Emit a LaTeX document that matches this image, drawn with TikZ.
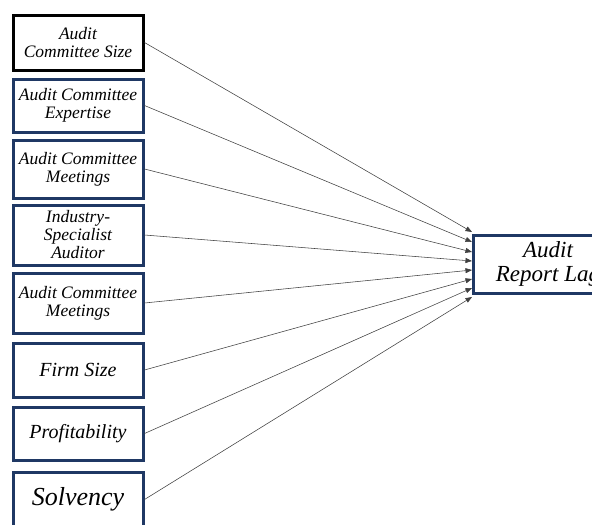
\documentclass[tikz,border=0pt]{standalone}
\usepackage{fontspec}
\setmainfont{Liberation Serif}
\usetikzlibrary{arrows.meta}
\definecolor{navy}{RGB}{31,56,100}
\begin{document}
\begin{tikzpicture}[x=1pt,y=-1pt,
  box/.style={draw=navy,line width=3pt,minimum width=130pt,inner sep=0pt,align=center,font=\itshape\fontsize{17.5}{18}\selectfont},
  conn/.style={draw=black!75,line width=0.55pt,-{Triangle[length=6.5pt,width=5pt]}}]
\clip (0,0) rectangle (592,525);
\fill[white] (0,0) rectangle (592,525);
\node[box,draw=black,minimum height=55pt] (b1) at (78,42.5) {Audit\\Committee Size};
\node[box,minimum height=53pt] (b2) at (78,105.5) {Audit Committee\\Expertise};
\node[box,minimum height=58pt] (b3) at (78,169) {Audit Committee\\Meetings};
\node[box,minimum height=60pt] (b4) at (78,235) {Industry-\\Specialist\\Auditor};
\node[box,minimum height=60pt] (b5) at (78,303) {Audit Committee\\Meetings};
\node[box,minimum height=54pt,font=\itshape\fontsize{20}{21}\selectfont] (b6) at (78,370) {Firm Size};
\node[box,minimum height=53pt,font=\itshape\fontsize{20}{21}\selectfont] (b7) at (78,433.5) {Profitability};
\node[box,minimum height=55pt,font=\itshape\fontsize{26}{27}\selectfont] (b8) at (78,499.5) {Solvency};
\node[box,minimum width=150pt,minimum height=58pt,font=\itshape\fontsize{23}{24}\selectfont] (t) at (548,264) {Audit\\Report Lag};
\coordinate (t1) at (472,232);
\coordinate (t2) at (472,242);
\coordinate (t3) at (472,252);
\coordinate (t4) at (472,261);
\coordinate (t5) at (472,270);
\coordinate (t6) at (472,279);
\coordinate (t7) at (472,288);
\coordinate (t8) at (472,297);
\foreach \i in {1,...,8} {\draw[conn] (b\i.east) -- (t\i);}
\end{tikzpicture}
\end{document}
